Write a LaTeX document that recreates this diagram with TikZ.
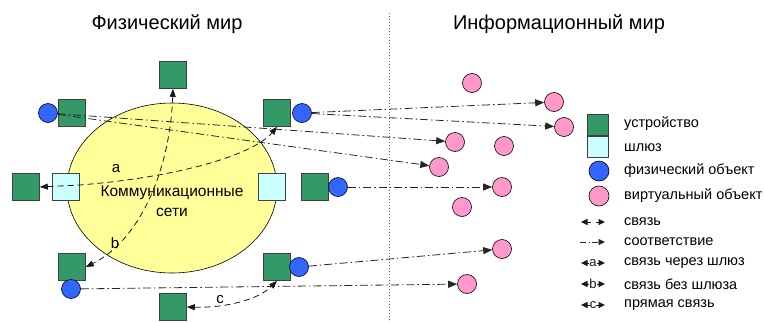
\documentclass[tikz,border=0pt]{standalone}
\usepackage{fontspec}
\setmainfont{Liberation Sans}
\usetikzlibrary{arrows.meta,shapes.geometric}
\definecolor{devgreen}{HTML}{339966}
\definecolor{gwcyan}{HTML}{CCFFFF}
\definecolor{physblue}{HTML}{3366FF}
\definecolor{virtpink}{HTML}{FF99CC}
\definecolor{netyellow}{HTML}{FFFF99}
\tikzset{
  dev/.style={rectangle, draw=black!75, line width=0.6pt, fill=devgreen, minimum size=27pt, inner sep=0pt},
  gw/.style={rectangle, draw=black!75, line width=0.6pt, fill=gwcyan, minimum size=27pt, inner sep=0pt},
  phys/.style={circle, draw=black, line width=0.6pt, fill=physblue, minimum size=19pt, inner sep=0pt},
  virt/.style={circle, draw=black, line width=0.6pt, fill=virtpink, minimum size=19pt, inner sep=0pt},
  ldev/.style={dev, minimum size=21pt},
  lgw/.style={gw, minimum size=21pt},
  lphys/.style={phys, minimum size=20pt},
  lvirt/.style={virt, minimum size=20pt},
  corr/.style={line width=0.8pt, black!85, dash pattern=on 8pt off 3pt on 1.5pt off 3pt, -{Triangle[length=9pt,width=7pt]}},
  link/.style={line width=0.8pt, black!90, dash pattern=on 6pt off 4pt, {Triangle[length=8pt,width=6pt]}-{Triangle[length=8pt,width=6pt]}},
  lcorr/.style={line width=0.8pt, black!85, dash pattern=on 6pt off 2.5pt on 1pt off 2.5pt, -{Triangle[length=6.5pt,width=6pt]}},
  llink/.style={line width=0.8pt, black!90, dash pattern=on 4pt off 5pt, {Triangle[length=6.5pt,width=6pt]}-{Triangle[length=6.5pt,width=6pt]}},
  lsolid/.style={line width=0.8pt, black!90, {Triangle[length=6.5pt,width=6pt]}-{Triangle[length=6.5pt,width=6pt]}},
  title/.style={font=\fontsize{20}{24}\selectfont},
  lbl/.style={font=\fontsize{15}{18}\selectfont, inner sep=0pt},
  legtext/.style={font=\fontsize{14.5}{17}\selectfont, anchor=west, inner sep=0pt},
  letter/.style={font=\fontsize{13}{15}\selectfont, fill=white, inner sep=0.2pt},
}
\begin{document}
\begin{tikzpicture}[x=1pt,y=-1pt]
\useasboundingbox (0,0) rectangle (764,322);
% titles
\node[title] (tphys) at (167,24) {Физический мир};
\node[title] (tinfo) at (559,24) {Информационный мир};
% divider
\coordinate (divtop) at (389,13);
\coordinate (divbot) at (389,322);
\draw[black!60, line width=1pt, dash pattern=on 1pt off 2pt] (divtop) -- (divbot);
% network
\node[ellipse, draw=black, line width=0.6pt, fill=netyellow, minimum width=210pt, minimum height=170pt, inner sep=0pt] (net) at (172,188) {};
\node[align=center, font=\fontsize{15.5}{18}\selectfont, inner sep=0pt] (nettxt) at (172,201) {Коммуникационные\\[2pt]сети};
% devices
\node[dev] (dT) at (173,75) {};
\node[dev] (dTL) at (72,113) {};
\node[phys] (pTL) at (48,113) {};
\node[dev] (dTR) at (277,113) {};
\node[phys] (pTR) at (302,113) {};
\node[dev] (dL) at (26,187) {};
\node[gw] (gL) at (66,187) {};
\node[gw] (gR) at (272,187) {};
\node[dev] (dR) at (315,187) {};
\node[phys] (pR) at (338,187) {};
\node[dev] (dBL) at (72,267) {};
\node[phys] (pBL) at (71,289) {};
\node[dev] (dBR) at (277,267) {};
\node[phys] (pBR) at (299,267) {};
\node[dev] (dB) at (173,307) {};
% virtual objects
\node[virt] (v1) at (472,83) {};
\node[virt] (v2) at (554,102) {};
\node[virt] (v3) at (564,127) {};
\node[virt] (v4) at (455,142) {};
\node[virt] (v5) at (504,146) {};
\node[virt] (v6) at (439,167) {};
\node[virt] (v7) at (502,187) {};
\node[virt] (v8) at (462,207) {};
\node[virt] (v9) at (502,249) {};
\node[virt] (v10) at (467,284) {};
% correspondence
\draw[corr] (pTR) -- (v2);
\draw[corr] (pTR) -- (v3);
\draw[corr] (pTL) -- (v4);
\draw[corr] (pTL) -- (v6);
\draw[corr] (pR) -- (v7);
\draw[corr] (pBR) -- (v9);
\draw[corr] (pBL) -- (v10);
% links
\coordinate (aK) at (80,185);
\draw[link] (dL.east) -- (aK) .. controls (190,176) and (256,152) .. (dTR.south);
\draw[link] (dT.south) .. controls (170,170) and (140,240) .. (dBL.east);
\draw[link] (dB.east) .. controls (225,308) and (258,300) .. (dBR.south);
\node[lbl] (la) at (116,169) {a};
\node[lbl] (lb) at (115,243) {b};
\node[lbl] (lc) at (220,300) {c};
% legend
\node[ldev] (Ldev) at (598,125) {};
\node[lgw] (Lgw) at (598,147) {};
\node[lphys] (Lphys) at (599,171) {};
\node[lvirt] (Lvirt) at (599,196) {};
\node[legtext] (Tdev) at (624,124) {устройство};
\node[legtext] (Tgw) at (624,148) {шлюз};
\node[legtext] (Tphys) at (624,171) {физический объект};
\node[legtext] (Tvirt) at (624,196) {виртуальный объект};
\coordinate (L1a) at (581,222); \coordinate (L1b) at (605,222);
\coordinate (L2a) at (580,242); \coordinate (L2b) at (605,242);
\coordinate (L3a) at (581,263); \coordinate (L3b) at (605,263);
\coordinate (L4a) at (581,284); \coordinate (L4b) at (605,284);
\coordinate (L5a) at (581,305); \coordinate (L5b) at (605,305);
\draw[llink] (L1a) -- (L1b);
\draw[lcorr] (L2a) -- (L2b);
\draw[lsolid] (L3a) -- node[letter] (La) {a} (L3b);
\draw[lsolid] (L4a) -- node[letter] (Lb) {b} (L4b);
\draw[lsolid] (L5a) -- node[letter] (Lc) {c} (L5b);
\node[legtext] (T1) at (624,222) {связь};
\node[legtext] (T2) at (624,242) {соответствие};
\node[legtext] (T3) at (624,263) {связь через шлюз};
\node[legtext] (T4) at (624,284) {связь без шлюза};
\node[legtext] (T5) at (624,305) {прямая связь};
\end{tikzpicture}
\end{document}
